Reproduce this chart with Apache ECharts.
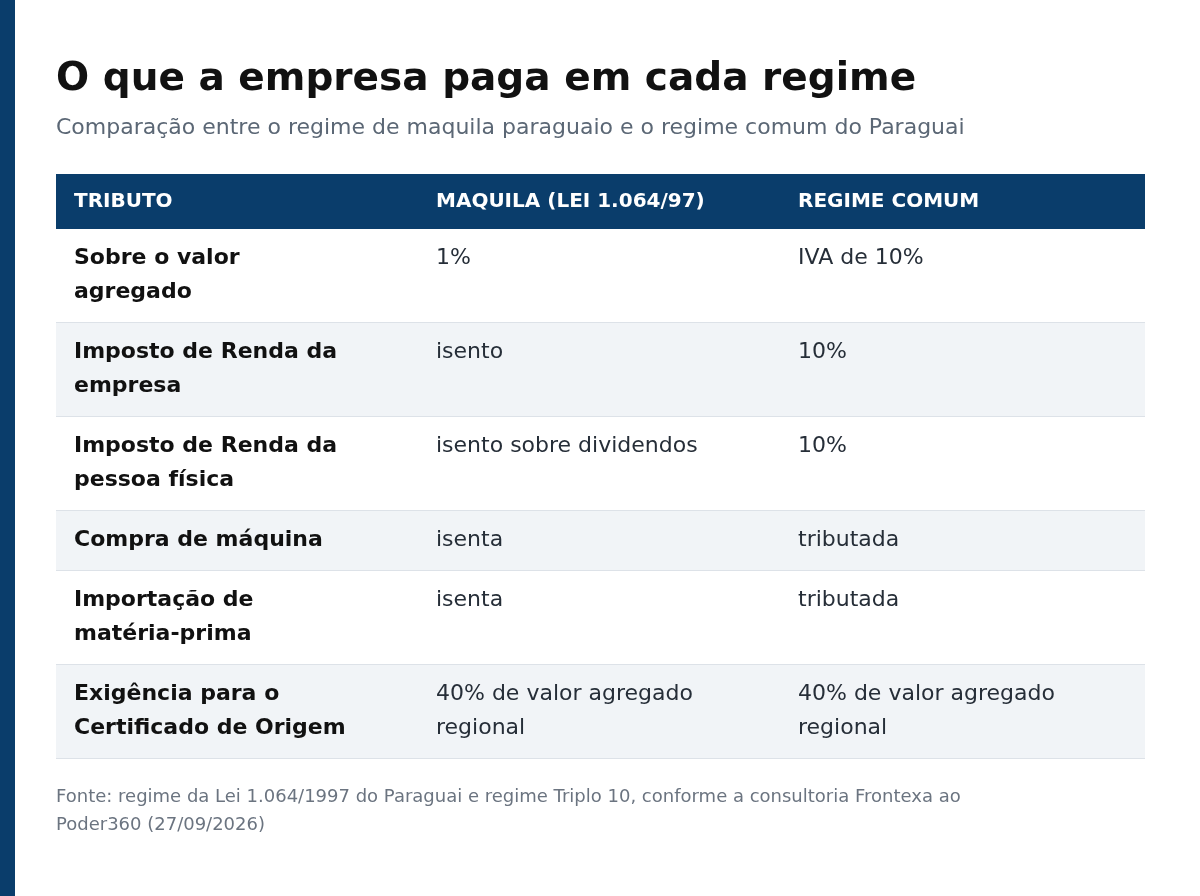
<!DOCTYPE html>
<html><head><meta charset="utf-8">
<script src="https://cdn.jsdelivr.net/npm/echarts@6/dist/echarts.min.js"></script>
<style>html,body{margin:0;padding:0;background:#fff}#c{width:1200px;height:896px}</style>
</head><body><div id="c"></div>
<script>
var headers = ['TRIBUTO', 'MAQUILA (LEI 1.064/97)', 'REGIME COMUM'];
var tributos = ['Sobre o valor\nagregado', 'Imposto de Renda da\nempresa', 'Imposto de Renda da\npessoa física', 'Compra de máquina', 'Importação de\nmatéria-prima', 'Exigência para o\nCertificado de Origem'];
var maquila = ['1%', 'isento', 'isento sobre dividendos', 'isenta', 'isenta', '40% de valor agregado\nregional'];
var comum = ['IVA de 10%', '10%', '10%', 'tributada', 'tributada', '40% de valor agregado\nregional'];

var font = 'DejaVu Sans';
var colX = [74, 436, 798];
var els = [];
els.push({type: 'rect', shape: {x: 0, y: 0, width: 15, height: 896}, style: {fill: '#0a3d6b'}});
els.push({type: 'text', x: 56, y: 60, style: {text: 'O que a empresa paga em cada regime', font: 'bold 39px ' + font, fill: '#111'}});
els.push({type: 'text', x: 56, y: 117, style: {text: 'Comparação entre o regime de maquila paraguaio e o regime comum do Paraguai', font: '22px ' + font, fill: '#5b6775'}});
els.push({type: 'rect', shape: {x: 56, y: 174, width: 1089, height: 55}, style: {fill: '#0a3d6b'}});
headers.forEach(function (h, i) {
  els.push({type: 'text', x: colX[i], y: 202, style: {text: h, font: 'bold 20px ' + font, fill: '#fff', verticalAlign: 'middle'}});
});
var y = 229;
tributos.forEach(function (t, r) {
  var lines = Math.max(t.split('\n').length, maquila[r].split('\n').length, comum[r].split('\n').length);
  var h = lines > 1 ? 94 : 60;
  if (r % 2 === 1) els.push({type: 'rect', shape: {x: 56, y: y, width: 1089, height: h}, style: {fill: '#f1f4f7'}});
  els.push({type: 'rect', shape: {x: 56, y: y + h - 1, width: 1089, height: 1}, style: {fill: '#dde2e8'}});
  [t, maquila[r], comum[r]].forEach(function (v, c) {
    els.push({type: 'text', x: colX[c], y: y + 12, style: {text: v, font: (c === 0 ? 'bold ' : '') + '22px ' + font, lineHeight: 34, fill: c === 0 ? '#111' : '#262e38'}});
  });
  y += h;
});
els.push({type: 'text', x: 56, y: 783, style: {text: 'Fonte: regime da Lei 1.064/1997 do Paraguai e regime Triplo 10, conforme a consultoria Frontexa ao\nPoder360 (27/09/2026)', font: '18px ' + font, lineHeight: 28, fill: '#6b7480'}});

var chart = echarts.init(document.getElementById('c'));
chart.setOption({animation: false, graphic: {elements: els}});
</script></body></html>
